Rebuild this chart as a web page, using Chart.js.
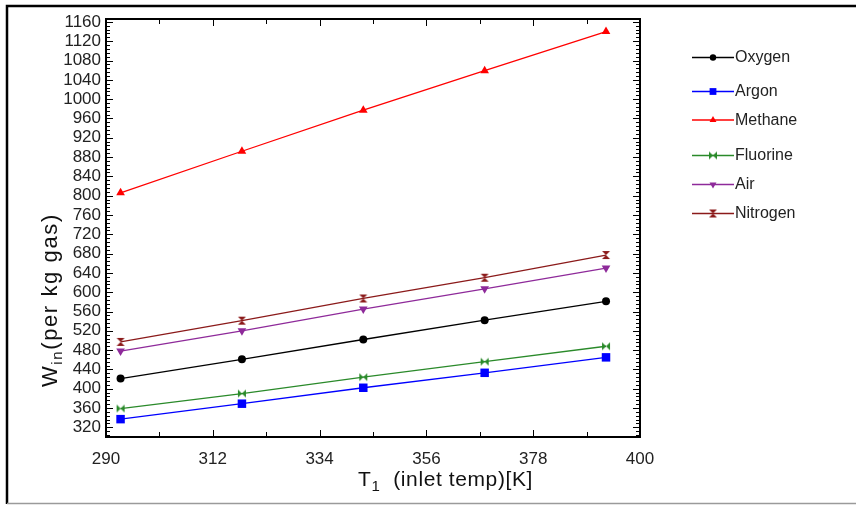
<!DOCTYPE html>
<html><head><meta charset="utf-8">
<script src="https://cdn.jsdelivr.net/npm/chart.js@4.4.0/dist/chart.umd.min.js"></script>
<style>html,body{margin:0;padding:0;background:#fff;}canvas{display:block}</style>
</head><body>
<canvas id="c" width="856" height="505"></canvas>
<script>
// ---- data ----
const temps = [293, 318, 343, 368, 393];
const oxygen = [421, 461, 502, 542, 581];
const argon = [337, 369, 402, 433, 465];
const methane = [806, 892, 977, 1059, 1140];
const fluorine = [359, 390, 424, 456, 488];
const air = [478, 520, 565, 607, 650];
const nitrogen = [497, 541, 587, 630, 677];
const seriesNames = ['Oxygen', 'Argon', 'Methane', 'Fluorine', 'Air', 'Nitrogen'];
const xTicks = [290, 312, 334, 356, 378, 400];
const yTicks = [320, 360, 400, 440, 480, 520, 560, 600, 640, 680, 720, 760, 800, 840, 880, 920, 960, 1000, 1040, 1080, 1120, 1160];

// ---- custom marker glyphs ----
function glyph(color, vertical) {
  const c = document.createElement('canvas');
  c.width = 10; c.height = 10;
  const g = c.getContext('2d');
  g.fillStyle = color;
  g.beginPath();
  if (vertical) {
    g.moveTo(1, 1); g.lineTo(9, 1); g.lineTo(5, 5); g.closePath();
    g.moveTo(1, 9); g.lineTo(9, 9); g.lineTo(5, 5); g.closePath();
  } else {
    g.moveTo(1, 1); g.lineTo(1, 9); g.lineTo(5, 5); g.closePath();
    g.moveTo(9, 1); g.lineTo(9, 9); g.lineTo(5, 5); g.closePath();
  }
  g.fill();
  return c;
}

const colors = ['#000000', '#0000ff', '#ff0000', '#2a8a2a', '#8e2a9a', '#8b1a1a'];
const values = [oxygen, argon, methane, fluorine, air, nitrogen];
const styles = [
  { pointStyle: 'circle', radius: 4, rotation: 0 },
  { pointStyle: 'rect', radius: 6, rotation: 0 },
  { pointStyle: 'triangle', radius: 5, rotation: 0 },
  { pointStyle: glyph(colors[3], false), radius: 5, rotation: 0 },
  { pointStyle: 'triangle', radius: 5, rotation: 180 },
  { pointStyle: glyph(colors[5], true), radius: 5, rotation: 0 }
];

const datasets = seriesNames.map((name, i) => ({
  label: name,
  data: temps.map((t, j) => ({ x: t, y: values[i][j] })),
  borderColor: colors[i],
  backgroundColor: colors[i],
  borderWidth: 1.3,
  pointStyle: styles[i].pointStyle,
  pointRadius: styles[i].radius,
  pointRotation: styles[i].rotation,
  pointBorderWidth: 0,
  tension: 0
}));

const legendY = [57.5, 91.5, 120, 155.5, 184.5, 213.5];
const tickFont = { family: "'Liberation Sans', Arial, sans-serif", size: 17 };

const decor = {
  id: 'decor',
  beforeDraw(chart) {
    const ctx = chart.ctx;
    ctx.save();
    ctx.fillStyle = '#fff';
    ctx.fillRect(0, 0, chart.width, chart.height);
    ctx.strokeStyle = '#000';
    ctx.lineWidth = 2.5;
    ctx.beginPath();
    ctx.moveTo(7, 504); ctx.lineTo(7, 6); ctx.lineTo(856, 6);
    ctx.stroke();
    ctx.strokeStyle = '#9a9a9a';
    ctx.lineWidth = 1.5;
    ctx.beginPath();
    ctx.moveTo(7, 503.5); ctx.lineTo(856, 503.5);
    ctx.stroke();
    ctx.restore();
  },
  afterDatasetsDraw(chart) {
    const ctx = chart.ctx;
    const a = chart.chartArea;
    const xs = chart.scales.x, ys = chart.scales.y;
    ctx.save();
    ctx.strokeStyle = '#000';
    ctx.lineWidth = 1;
    ctx.beginPath();
    for (let v = 304; v <= 1164; v += 8) {
      const py = Math.round(ys.getPixelForValue(v)) + 0.5;
      const major = (v - 320) % 40 === 0;
      const len = major ? 7 : 4;
      ctx.moveTo(a.left, py); ctx.lineTo(a.left + len, py);
      ctx.moveTo(a.right, py); ctx.lineTo(a.right - len, py);
    }
    for (let v = 301; v < 400; v += 11) {
      const px = Math.round(xs.getPixelForValue(v)) + 0.5;
      const major = (v - 290) % 22 === 0;
      const len = major ? 7 : 5;
      ctx.moveTo(px, a.bottom); ctx.lineTo(px, a.bottom - len);
      ctx.moveTo(px, a.top); ctx.lineTo(px, a.top + len);
    }
    ctx.stroke();
    ctx.lineWidth = 2;
    ctx.strokeRect(a.left, a.top, a.right - a.left, a.bottom - a.top);
    ctx.restore();
  },
  afterDraw(chart) {
    const ctx = chart.ctx;
    const H = Chart.helpers;
    ctx.save();
    // legend
    chart.data.datasets.forEach((ds, i) => {
      const y = legendY[i];
      ctx.strokeStyle = ds.borderColor;
      ctx.fillStyle = ds.backgroundColor;
      ctx.lineWidth = 1.3;
      ctx.beginPath();
      ctx.moveTo(692, y); ctx.lineTo(734, y);
      ctx.stroke();
      const opts = { pointStyle: ds.pointStyle, rotation: ds.pointRotation, radius: ds.pointRadius * 0.8, borderWidth: 0 };
      if (H && H.drawPoint) H.drawPoint(ctx, opts, 713, y);
      ctx.fillStyle = '#222';
      ctx.font = "16px 'Liberation Sans', Arial, sans-serif";
      ctx.textAlign = 'left';
      ctx.textBaseline = 'middle';
      ctx.fillText(ds.label, 735, y + 0.5);
    });
    // y title
    ctx.fillStyle = '#111';
    ctx.save();
    ctx.translate(57, 387);
    ctx.rotate(-Math.PI / 2);
    ctx.textAlign = 'left';
    ctx.textBaseline = 'alphabetic';
    ctx.letterSpacing = '1.6px';
    ctx.font = "22px 'Liberation Sans', Arial, sans-serif";
    ctx.fillText('W', 0, 0);
    let w = ctx.measureText('W').width;
    ctx.font = "15px 'Liberation Sans', Arial, sans-serif";
    ctx.fillText('in', w, 5);
    w += ctx.measureText('in').width;
    ctx.font = "22px 'Liberation Sans', Arial, sans-serif";
    ctx.fillText('(per kg gas)', w, 0);
    ctx.restore();
    // x title
    ctx.save();
    ctx.textAlign = 'left';
    ctx.textBaseline = 'alphabetic';
    ctx.letterSpacing = '0.6px';
    ctx.font = "21px 'Liberation Sans', Arial, sans-serif";
    let x = 358;
    ctx.fillText('T', x, 486);
    x += ctx.measureText('T').width;
    ctx.font = "15px 'Liberation Sans', Arial, sans-serif";
    ctx.fillText('1', x, 491);
    x += ctx.measureText('1').width;
    ctx.font = "21px 'Liberation Sans', Arial, sans-serif";
    ctx.fillText('  (inlet temp)[K]', x, 486);
    ctx.restore();
    ctx.restore();
  }
};

new Chart(document.getElementById('c'), {
  type: 'line',
  data: { datasets },
  options: {
    responsive: false,
    animation: false,
    devicePixelRatio: 1,
    layout: { padding: { left: 0, top: 19, right: 216, bottom: 0 } },
    plugins: { legend: { display: false }, tooltip: { enabled: false } },
    scales: {
      x: {
        type: 'linear', min: 290, max: 400,
        afterBuildTicks: s => { s.ticks = xTicks.map(v => ({ value: v })); },
        afterFit: s => { s.height = 68; },
        grid: { display: false, drawTicks: false },
        border: { display: false },
        ticks: { font: tickFont, color: '#222', padding: 12, autoSkip: false, maxRotation: 0, callback: v => String(v) }
      },
      y: {
        type: 'linear', min: 300, max: 1166,
        afterBuildTicks: s => { s.ticks = yTicks.map(v => ({ value: v })); },
        afterFit: s => { s.width = 106; },
        grid: { display: false, drawTicks: false },
        border: { display: false },
        ticks: { font: tickFont, color: '#222', padding: 5, autoSkip: false, callback: v => String(v) }
      }
    }
  },
  plugins: [decor]
});
</script>
</body></html>
